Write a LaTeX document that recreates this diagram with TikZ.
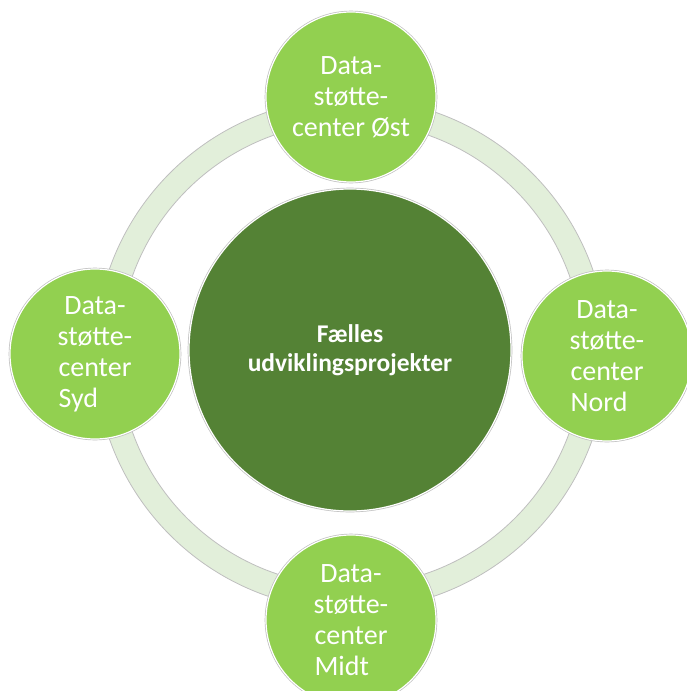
\documentclass[tikz,border=0pt]{standalone}
\usepackage{fontspec}
\setmainfont{Carlito}
\usetikzlibrary{positioning}
\definecolor{centergreen}{HTML}{548235}
\definecolor{outergreen}{HTML}{92D050}
\definecolor{ringgreen}{HTML}{E2EFDA}
\definecolor{edgegray}{HTML}{BFBFBF}
\newcommand{\lastword}[1]{\rlap{#1}\phantom{center}}
\tikzset{
        circnode/.style={align=center,inner sep=0pt,circle,white,
            preaction={draw=edgegray, line width=2.6pt},
            draw=white, line width=1.2pt},
        % Center node
        node_center/.style={circnode, fill=centergreen, minimum size=322pt, font=\fontsize{25.5}{28.5}\selectfont\bfseries},
        % Outer nodes
        node_outer/.style={circnode, fill=outergreen, minimum size=170pt, font=\fontsize{28}{31}\selectfont},
        % Ring behind the nodes
        ring/.style={fill=ringgreen, draw=edgegray, line width=0.8pt, even odd rule}
}
\begin{document}
\begin{tikzpicture}[x=1pt, y=-1pt]
            \useasboundingbox (0,0) rectangle (686,691);
            \coordinate (mid) at (351,354);
            \draw[ring] (mid) circle (256pt) circle (232pt);
            \node[node_center] (faelles) at (350,350) {Fælles\\udviklingsprojekter};
            \node[node_outer] (oest) at (351,97) {Data-\\støtte-\\center Øst};
            \node[node_outer] (syd) at (95,354) {Data-\\støtte-\\center\\\lastword{Syd}};
            \node[node_outer] (nord) at (607,356) {Data-\\støtte-\\center\\\lastword{Nord}};
            \node[node_outer] (midt) at (351,620) {Data-\\støtte-\\center\\\lastword{Midt}};
        \end{tikzpicture}
\end{document}
